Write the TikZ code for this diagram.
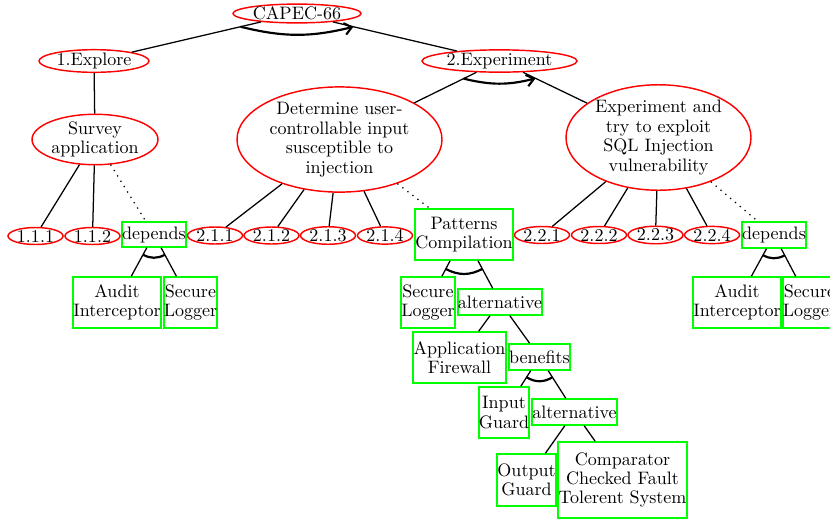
\documentclass[tikz,border=0pt]{standalone}
\usetikzlibrary{shapes.geometric,calc,arrows.meta}
\newcommand\pxu{0.555pt}
\tikzset{
  txt/.style={font=\fontsize{10}{10.8}\selectfont, align=center, inner sep=0pt, text=black},
  atk/.style={txt, ellipse, draw=red, line width=0.8pt},
  cmb/.style={txt, rectangle, draw=green, line width=0.8pt, inner ysep=1pt},
  pxsize/.style 2 args={minimum width=#1*\pxu, minimum height=#2*\pxu},
  conn/.style={line width=0.7pt},
  cconn/.style={conn, dash pattern=on 0.7pt off 2.8pt},
  andarc/.style={line width=1.2pt},
  seqarc/.style={andarc, -{Straight Barb[length=4pt,width=6.5pt]}},
}
% #1 options, #2 parent, #3 first child, #4 last child, #5 radius (px), #6 bend
\newcommand\refarc[6][]{%
  \draw[andarc,#1] ($(#2.center)!{#5*\pxu}!(#3.center)$) to[bend right=#6] ($(#2.center)!{#5*\pxu}!(#4.center)$);}
\begin{document}
\begin{tikzpicture}[x={(\pxu,0)}, y={(0,-\pxu)}]
\useasboundingbox (0,0) rectangle (830,520);
% attack nodes
\node[atk, pxsize={128}{15}] (root) at (297,13.5) {CAPEC-66};
\node[atk, pxsize={110}{16}] (explore) at (94,61) {1.Explore};
\node[atk, pxsize={155}{18}] (exper) at (499.5,61) {2.Experiment};
\node[atk, pxsize={126}{45}] (survey) at (95,139.5) {Survey\\application};
\node[atk, pxsize={205}{105}] (determine) at (339.5,139.5) {Determine user-\\controllable input\\susceptible to\\injection};
\node[atk, pxsize={185}{99}] (exploit) at (658.5,137.5) {Experiment and\\try to exploit\\SQL Injection\\vulnerability};
\node[atk, pxsize={55}{17}] (l111) at (35.5,236) {1.1.1};
\node[atk, pxsize={55}{17}] (l112) at (92.5,236) {1.1.2};
\node[atk, pxsize={55}{17}] (l211) at (215,235.5) {2.1.1};
\node[atk, pxsize={55}{17}] (l212) at (271.5,235.5) {2.1.2};
\node[atk, pxsize={55}{17}] (l213) at (328,235.5) {2.1.3};
\node[atk, pxsize={55}{17}] (l214) at (385,235.5) {2.1.4};
\node[atk, pxsize={55}{17}] (l221) at (542,235) {2.2.1};
\node[atk, pxsize={55}{17}] (l222) at (599,235) {2.2.2};
\node[atk, pxsize={55}{17}] (l223) at (655.5,235) {2.2.3};
\node[atk, pxsize={55}{17}] (l224) at (712,235) {2.2.4};
% countermeasure nodes
\node[cmb, pxsize={64}{25}] (depL) at (154,234.5) {depends};
\node[cmb, pxsize={98}{51}] (patterns) at (464,234.5) {Patterns\\Compilation};
\node[cmb, pxsize={64}{26}] (depR) at (774,235) {depends};
\node[cmb, pxsize={88}{51}] (auditL) at (117,302.5) {Audit\\Interceptor};
\node[cmb, pxsize={53}{51}] (secL) at (190.5,302.5) {Secure\\Logger};
\node[cmb, pxsize={54}{51}] (secM) at (428,302.5) {Secure\\Logger};
\node[cmb, pxsize={84}{26}] (alt1) at (500,302) {alternative};
\node[cmb, pxsize={93}{51}] (appfw) at (459.5,357.5) {Application\\Firewall};
\node[cmb, pxsize={61}{26}] (benefits) at (539.5,357) {benefits};
\node[cmb, pxsize={50}{51}] (inguard) at (504,412.5) {Input\\Guard};
\node[cmb, pxsize={85}{26}] (alt2) at (574.5,412) {alternative};
\node[cmb, pxsize={59}{52}] (outguard) at (526.5,480) {Output\\Guard};
\node[cmb, pxsize={129}{76}] (comparator) at (622.5,480) {Comparator\\Checked Fault\\Tolerent System};
\node[cmb, pxsize={88}{51}] (auditR) at (737,302.5) {Audit\\Interceptor};
\node[cmb, pxsize={53}{51}] (secR) at (809.5,302.5) {Secure\\Logger};
% connectors
\draw[conn] (root) -- (explore);
\draw[conn] (root) -- (exper);
\draw[conn] (explore) -- (survey);
\draw[conn] (exper) -- (determine);
\draw[conn] (exper) -- (exploit);
\draw[conn] (survey) -- (l111);
\draw[conn] (survey) -- (l112);
\draw[cconn] (survey) -- (depL);
\foreach \c in {l211,l212,l213,l214} \draw[conn] (determine) -- (\c);
\draw[cconn] (determine) -- (patterns);
\foreach \c in {l221,l222,l223,l224} \draw[conn] (exploit) -- (\c);
\draw[cconn] (exploit) -- (depR);
\draw[conn] (depL) -- (auditL);
\draw[conn] (depL) -- (secL);
\draw[conn] (patterns) -- (secM);
\draw[conn] (patterns) -- (alt1);
\draw[conn] (alt1) -- (appfw);
\draw[conn] (alt1) -- (benefits);
\draw[conn] (benefits) -- (inguard);
\draw[conn] (benefits) -- (alt2);
\draw[conn] (alt2) -- (outguard);
\draw[conn] (alt2) -- (comparator);
\draw[conn] (depR) -- (auditR);
\draw[conn] (depR) -- (secR);
% refinement arcs
\refarc[seqarc]{root}{explore}{exper}{58}{14}
\refarc[seqarc]{exper}{determine}{exploit}{40}{14}
\refarc{depL}{auditL}{secL}{23}{28}
\refarc{patterns}{secM}{alt1}{39}{28}
\refarc{benefits}{inguard}{alt2}{24}{32}
\refarc{depR}{auditR}{secR}{23}{28}
\end{tikzpicture}
\end{document}
